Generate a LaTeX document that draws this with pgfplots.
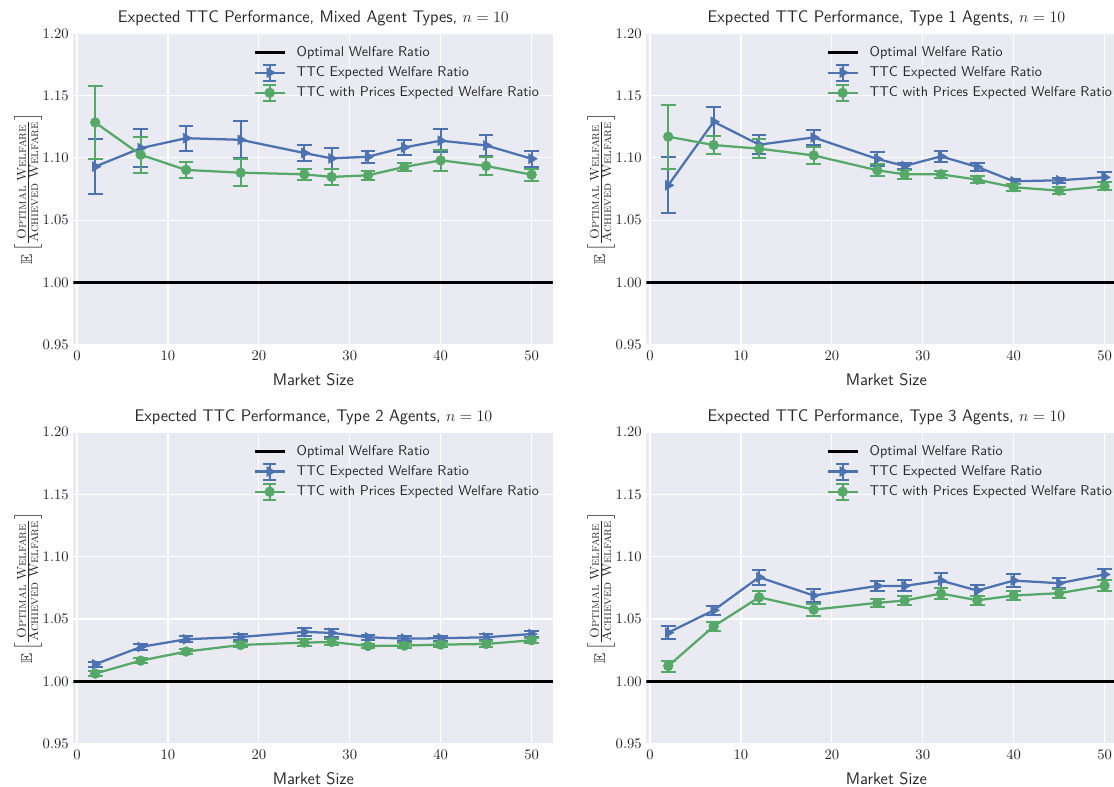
\documentclass[border=0pt]{standalone}
\usepackage{fontspec}
\usepackage{amsmath}
\usepackage{amssymb}
\usepackage{pgfplots}
\pgfplotsset{compat=1.18}
\usepackage{pgfplotstable}
\definecolor{sbblue}{HTML}{4C72B0}
\definecolor{sbgreen}{HTML}{55A868}
\definecolor{sbbg}{HTML}{EAEAF2}
\definecolor{sbtext}{HTML}{262626}

% Mixed agent types
\pgfplotstableread{
x y e
2 1.0930 0.0220
7 1.1078 0.0150
12 1.1158 0.0100
18 1.1145 0.0150
25 1.1039 0.0068
28 1.0996 0.0085
32 1.1009 0.0050
36 1.1084 0.0060
40 1.1138 0.0093
45 1.1100 0.0084
50 1.0993 0.0065
}\mixB
\pgfplotstableread{
x y e
2 1.1284 0.0290
7 1.1025 0.0143
12 1.0903 0.0067
18 1.0881 0.0110
25 1.0868 0.0043
28 1.0847 0.0067
32 1.0860 0.0037
36 1.0927 0.0031
40 1.0980 0.0087
45 1.0935 0.0074
50 1.0865 0.0047
}\mixG
% Type 1
\pgfplotstableread{
x y e
2 1.0780 0.0225
7 1.1290 0.0117
12 1.1106 0.0076
18 1.1164 0.0060
25 1.0991 0.0060
28 1.0935 0.0026
32 1.1012 0.0045
36 1.0927 0.0030
40 1.0812 0.0019
45 1.0820 0.0019
50 1.0844 0.0040
}\oneB
\pgfplotstableread{
x y e
2 1.1170 0.0257
7 1.1103 0.0074
12 1.1074 0.0075
18 1.1020 0.0068
25 1.0900 0.0048
28 1.0868 0.0036
32 1.0868 0.0028
36 1.0825 0.0027
40 1.0764 0.0030
45 1.0737 0.0030
50 1.0772 0.0032
}\oneG
% Type 2
\pgfplotstableread{
x y e
2 1.0137 0.0019
7 1.0276 0.0027
12 1.0338 0.0025
18 1.0356 0.0024
25 1.0397 0.0033
28 1.0389 0.0030
32 1.0354 0.0019
36 1.0343 0.0019
40 1.0346 0.0019
45 1.0354 0.0024
50 1.0380 0.0027
}\twoB
\pgfplotstableread{
x y e
2 1.0062 0.0020
7 1.0166 0.0020
12 1.0239 0.0022
18 1.0292 0.0020
25 1.0311 0.0027
28 1.0316 0.0027
32 1.0284 0.0019
36 1.0287 0.0020
40 1.0295 0.0020
45 1.0300 0.0022
50 1.0330 0.0022
}\twoG
% Type 3
\pgfplotstableread{
x y e
2 1.0391 0.0052
7 1.0571 0.0036
12 1.0836 0.0059
18 1.0689 0.0052
25 1.0766 0.0040
28 1.0766 0.0044
32 1.0809 0.0058
36 1.0729 0.0046
40 1.0809 0.0055
45 1.0788 0.0038
50 1.0858 0.0048
}\threeB
\pgfplotstableread{
x y e
2 1.0123 0.0044
7 1.0442 0.0036
12 1.0675 0.0051
18 1.0576 0.0048
25 1.0630 0.0030
28 1.0649 0.0039
32 1.0705 0.0047
36 1.0651 0.0037
40 1.0689 0.0035
45 1.0708 0.0035
50 1.0769 0.0043
}\threeG

\newcommand{\tickfont}{\fontsize{10.6}{12}\selectfont}
\newcommand{\labfont}{\sffamily\fontsize{12.6}{14}\selectfont}
\newcommand{\fsc}[1]{\text{\fontsize{9.6}{10}\selectfont\textsc{#1}}}

\pgfplotsset{
  panel/.style={
    scale only axis, width=360pt, height=233.5pt,
    anchor=north west,
    xmin=-0.4, xmax=52.4, ymin=0.95, ymax=1.20,
    xtick={0,10,20,30,40,50},
    ytick={0.95,1.00,1.05,1.10,1.15,1.20},
    yticklabel style={/pgf/number format/.cd, fixed, fixed zerofill, precision=2},
    xticklabel style={yshift=-1pt},
    axis background/.style={fill=sbbg},
    grid=major, major grid style={white, line width=0.9pt},
    major tick length=0pt,
    axis line style={draw=none},
    tick label style={font=\tickfont, text=sbtext},
    xlabel={Market Size},
    ylabel={$\mathbb{E}\left[\frac{\fsc{Optimal Welfare}}{\fsc{Achieved Welfare}}\right]$},
    label style={font=\labfont, text=sbtext},
    xlabel style={yshift=-3pt},
    ylabel style={font=\fontsize{11.6}{13}\selectfont, yshift=-4pt, inner sep=1pt},
    title style={font=\labfont, text=sbtext, yshift=-4pt},
    legend style={at={(0.366,0.975)}, anchor=north west, draw=none, fill=none,
      font=\sffamily\tickfont, text=sbtext, row sep=1.6pt},
    legend cell align=left,
  },
  optline/.style={black, line width=2pt,
    legend image code/.code={\draw[black, line width=2pt] (0pt,0pt) -- (22.5pt,0pt); \path (28.5pt,0pt);}},
  bser/.style={sbblue, line width=1.7pt, mark=triangle*, mark size=4.2pt,
    mark options={rotate=-90, fill=sbblue, draw=sbblue, line width=0.5pt},
    error bars/.cd, y dir=both, y explicit,
      error bar style={sbblue, line width=1.5pt},
      error mark options={sbblue, mark size=5.5pt, line width=1.5pt, rotate=90},
    /pgfplots/legend image code/.code={
      \draw[sbblue, line width=1.7pt] (0pt,0pt) -- (22.5pt,0pt);
      \draw[sbblue, line width=1.5pt] (11.25pt,-6pt) -- (11.25pt,6pt)
        (6.5pt,6pt) -- (16pt,6pt) (6.5pt,-6pt) -- (16pt,-6pt);
      \draw[sbblue, mark=triangle*, mark size=4.2pt, mark options={rotate=-90, fill=sbblue, line width=0.5pt}] plot coordinates {(11.25pt,0pt)};
      \path (28.5pt,0pt);
    }},
  gser/.style={sbgreen, line width=1.7pt, mark=*, mark size=3.6pt,
    mark options={fill=sbgreen, draw=sbgreen, line width=0.5pt},
    error bars/.cd, y dir=both, y explicit,
      error bar style={sbgreen, line width=1.5pt},
      error mark options={sbgreen, mark size=5.5pt, line width=1.5pt, rotate=90},
    /pgfplots/legend image code/.code={
      \draw[sbgreen, line width=1.7pt] (0pt,0pt) -- (22.5pt,0pt);
      \draw[sbgreen, line width=1.5pt] (11.25pt,-6pt) -- (11.25pt,6pt)
        (6.5pt,6pt) -- (16pt,6pt) (6.5pt,-6pt) -- (16pt,-6pt);
      \draw[sbgreen, mark=*, mark size=3.6pt, mark options={fill=sbgreen, line width=0.5pt}] plot coordinates {(11.25pt,0pt)};
      \path (28.5pt,0pt);
    }},
}

\begin{document}
\begin{tikzpicture}
\begin{axis}[panel, at={(55.05pt,-25pt)},
  title={Expected TTC Performance, Mixed Agent Types, $n = 10$}]
  \addplot[optline] coordinates {(-0.4,1) (52.4,1)};
  \addlegendentry{Optimal Welfare Ratio}
  \addplot[bser] table[x=x, y=y, y error=e] {\mixB};
  \addlegendentry{TTC Expected Welfare Ratio}
  \addplot[gser] table[x=x, y=y, y error=e] {\mixG};
  \addlegendentry{TTC with Prices Expected Welfare Ratio}
\end{axis}
\begin{axis}[panel, at={(484.8pt,-25pt)},
  title={Expected TTC Performance, Type 1 Agents, $n = 10$}]
  \addplot[optline] coordinates {(-0.4,1) (52.4,1)};
  \addlegendentry{Optimal Welfare Ratio}
  \addplot[bser] table[x=x, y=y, y error=e] {\oneB};
  \addlegendentry{TTC Expected Welfare Ratio}
  \addplot[gser] table[x=x, y=y, y error=e] {\oneG};
  \addlegendentry{TTC with Prices Expected Welfare Ratio}
\end{axis}
\begin{axis}[panel, at={(55.05pt,-324.2pt)},
  title={Expected TTC Performance, Type 2 Agents, $n = 10$}]
  \addplot[optline] coordinates {(-0.4,1) (52.4,1)};
  \addlegendentry{Optimal Welfare Ratio}
  \addplot[bser] table[x=x, y=y, y error=e] {\twoB};
  \addlegendentry{TTC Expected Welfare Ratio}
  \addplot[gser] table[x=x, y=y, y error=e] {\twoG};
  \addlegendentry{TTC with Prices Expected Welfare Ratio}
\end{axis}
\begin{axis}[panel, at={(484.8pt,-324.2pt)},
  title={Expected TTC Performance, Type 3 Agents, $n = 10$}]
  \addplot[optline] coordinates {(-0.4,1) (52.4,1)};
  \addlegendentry{Optimal Welfare Ratio}
  \addplot[bser] table[x=x, y=y, y error=e] {\threeB};
  \addlegendentry{TTC Expected Welfare Ratio}
  \addplot[gser] table[x=x, y=y, y error=e] {\threeG};
  \addlegendentry{TTC with Prices Expected Welfare Ratio}
\end{axis}
\pgfresetboundingbox
\path[use as bounding box] (0pt,0pt) rectangle (835.5pt,-589.5pt);
\end{tikzpicture}
\end{document}
